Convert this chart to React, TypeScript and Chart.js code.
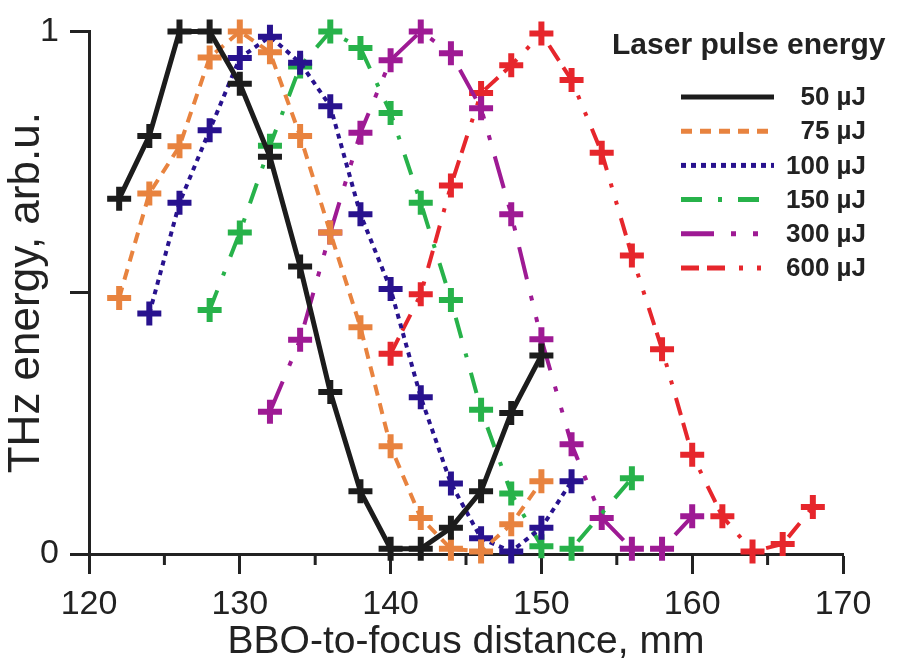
import React, { useEffect, useRef } from 'react';
import { Chart, registerables } from 'chart.js';
Chart.register(...registerables);

const xTicks = [120, 130, 140, 150, 160, 170];
const minorXTicks = [125, 135, 145, 155, 165];
const yTicks = [0, 0.5, 1];
const legendTitle = 'Laser pulse energy';
const xTitle = 'BBO-to-focus distance, mm';
const yTitle = 'THz energy, arb.u.';
const seriesLabels = ['50 µJ', '75 µJ', '100 µJ', '150 µJ', '300 µJ', '600 µJ'];

const x50 = [122, 124, 126, 128, 130, 132, 134, 136, 138, 140, 142, 144, 146, 148, 150];
const y50 = [0.68, 0.80, 1.0, 1.0, 0.90, 0.76, 0.55, 0.31, 0.12, 0.01, 0.01, 0.05, 0.12, 0.27, 0.38];
const x75 = [122, 124, 126, 128, 130, 132, 134, 136, 138, 140, 142, 144, 146, 148, 150];
const y75 = [0.49, 0.69, 0.78, 0.95, 1.0, 0.96, 0.80, 0.615, 0.434, 0.206, 0.069, 0.01, 0.005, 0.057, 0.139];
const x100 = [124, 126, 128, 130, 132, 134, 136, 138, 140, 142, 144, 146, 148, 150, 152];
const y100 = [0.46, 0.672, 0.811, 0.949, 0.99, 0.94, 0.857, 0.65, 0.507, 0.30, 0.135, 0.03, 0.005, 0.05, 0.139];
const x150 = [128, 130, 132, 134, 136, 138, 140, 142, 144, 146, 148, 150, 152, 156];
const y150 = [0.467, 0.615, 0.781, 0.933, 1.0, 0.968, 0.844, 0.672, 0.486, 0.276, 0.116, 0.015, 0.01, 0.145];
const x300 = [132, 134, 136, 138, 140, 142, 144, 146, 148, 150, 152, 154, 156, 158, 160];
const y300 = [0.272, 0.41, 0.615, 0.806, 0.945, 1.0, 0.958, 0.853, 0.65, 0.411, 0.21, 0.069, 0.01, 0.01, 0.072];
const x600 = [140, 142, 144, 146, 148, 150, 152, 154, 156, 158, 160, 162, 164, 166, 168];
const y600 = [0.383, 0.497, 0.705, 0.882, 0.935, 0.996, 0.907, 0.768, 0.571, 0.392, 0.19, 0.072, 0.005, 0.019, 0.09];

const seriesX = [x50, x75, x100, x150, x300, x600];
const seriesY = [y50, y75, y100, y150, y300, y600];
const colors = ['#1c1c1c', '#e8833f', '#28128e', '#27b24a', '#9e1a94', '#e6262c'];
const widths = [5, 4, 4, 4, 4, 4];
const dashes = [
  [],
  [11, 8],
  [5, 5],
  [21, 16, 4, 16],
  [33, 17, 5, 17, 5, 17],
  [18, 8, 18, 14, 4, 14, 4, 14],
];

const FONT = "Arial, 'Liberation Sans', Helvetica, sans-serif";

const minorTickPlugin = {
  id: 'minorTicks',
  afterDraw(chart: any) {
    const ctx = chart.ctx;
    const xs = chart.scales.x;
    const yb = chart.chartArea.bottom;
    ctx.save();
    ctx.strokeStyle = '#222';
    ctx.lineWidth = 3;
    minorXTicks.forEach((v) => {
      const px = xs.getPixelForValue(v);
      ctx.beginPath();
      ctx.moveTo(px, yb);
      ctx.lineTo(px, yb + 11);
      ctx.stroke();
    });
    ctx.restore();
  },
};

const legendPlugin = {
  id: 'customLegend',
  afterDraw(chart: any) {
    const ctx = chart.ctx;
    ctx.save();
    ctx.fillStyle = '#222';
    ctx.font = `bold 30px ${FONT}`;
    ctx.textAlign = 'left';
    ctx.textBaseline = 'middle';
    ctx.fillText(legendTitle, 612, 46);
    chart.data.datasets.forEach((ds: any, i: number) => {
      const y = 97 + i * 34.2;
      ctx.beginPath();
      ctx.strokeStyle = ds.borderColor;
      ctx.lineWidth = 5;
      ctx.setLineDash(ds.borderDash || []);
      ctx.moveTo(681, y);
      ctx.lineTo(774, y);
      ctx.stroke();
      ctx.setLineDash([]);
      ctx.fillStyle = '#222';
      ctx.font = `bold 26px ${FONT}`;
      ctx.textAlign = 'right';
      ctx.fillText(ds.label, 866, y + 1);
    });
    ctx.restore();
  },
};

export default function App() {
  const ref = useRef<HTMLCanvasElement | null>(null);
  useEffect(() => {
    if (!ref.current) return;
    const datasets = seriesLabels.map((label, i) => ({
      label,
      data: seriesX[i].map((x, j) => ({ x, y: seriesY[i][j] })),
      borderColor: colors[i],
      backgroundColor: colors[i],
      borderWidth: widths[i],
      borderDash: dashes[i],
      pointStyle: 'cross',
      pointRadius: 12,
      pointBorderWidth: 6,
      pointBorderColor: colors[i],
      pointBackgroundColor: colors[i],
      tension: 0,
      clip: false,
    }));
    const chart = new Chart(ref.current, {
      type: 'line',
      data: { datasets },
      options: {
        responsive: false,
        animation: false,
        devicePixelRatio: 1,
        layout: { padding: { top: 26, right: 59, left: 0, bottom: 0 } },
        plugins: { legend: { display: false }, tooltip: { enabled: false } },
        scales: {
          x: {
            type: 'linear',
            min: 120,
            max: 170,
            afterBuildTicks: (s: any) => {
              s.ticks = xTicks.map((v) => ({ value: v }));
            },
            afterFit: (s: any) => {
              s.height = 112;
            },
            grid: { drawOnChartArea: false, drawTicks: true, tickLength: 20, tickWidth: 3, tickColor: '#222' },
            border: { display: true, width: 3, color: '#222' },
            ticks: { color: '#222', font: { family: FONT, size: 34 }, padding: 10, maxRotation: 0 },
            title: { display: true, text: xTitle, color: '#222', font: { family: FONT, size: 39 }, padding: { top: 0, bottom: 0 } },
          },
          y: {
            type: 'linear',
            min: 0,
            max: 1,
            afterBuildTicks: (s: any) => {
              s.ticks = yTicks.map((v) => ({ value: v }));
            },
            afterFit: (s: any) => {
              s.width = 89;
            },
            grid: { drawOnChartArea: false, drawTicks: true, tickLength: 19, tickWidth: 3, tickColor: '#222' },
            border: { display: true, width: 3, color: '#222' },
            ticks: {
              color: '#222',
              font: { family: FONT, size: 34 },
              padding: 11,
              callback: (v: any) => (v === 0.5 ? '' : String(v)),
            },
            title: { display: true, text: yTitle, color: '#222', font: { family: FONT, size: 44 }, padding: { top: 0, bottom: 0 } },
          },
        },
      },
      plugins: [minorTickPlugin, legendPlugin],
    } as any);
    return () => chart.destroy();
  }, []);
  return (
    <div style={{ position: 'absolute', left: 0, top: 0, width: 902, height: 666, background: '#fff' }}>
      <canvas ref={ref} width={902} height={666} />
    </div>
  );
}
